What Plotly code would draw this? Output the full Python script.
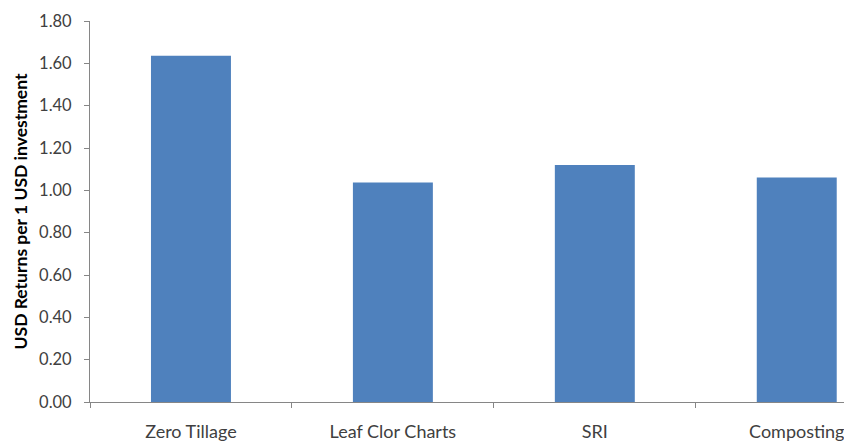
import plotly.graph_objects as go

# Returns per 1 USD invested, by practice
practices = ["Zero Tillage", "Leaf Clor Charts", "SRI", "Composting"]
returns = [1.636, 1.037, 1.12, 1.061]
y_ticks = [0.0, 0.2, 0.4, 0.6, 0.8, 1.0, 1.2, 1.4, 1.6, 1.8]
y_tick_text = [f"{v:.2f}" for v in y_ticks]

fig = go.Figure(
    go.Bar(
        x=practices,
        y=returns,
        marker=dict(color="#4F81BD", line=dict(width=0)),
        hoverinfo="x+y",
    )
)

axis_gray = "#868686"
font_family = "Lato, Open Sans, sans-serif"

fig.update_layout(
    width=844,
    height=441,
    margin=dict(l=90, r=0, t=21, b=39, autoexpand=False),
    paper_bgcolor="white",
    plot_bgcolor="white",
    bargap=0.604,
    showlegend=False,
    xaxis=dict(
        type="category",
        range=[-0.5, 3.234],
        showline=True,
        linecolor=axis_gray,
        linewidth=1,
        ticks="outside",
        tickson="boundaries",
        ticklen=5,
        tickcolor=axis_gray,
        showgrid=False,
        tickfont=dict(family=font_family, size=18, color="#404040"),
        ticklabelstandoff=13,
        automargin=False,
        fixedrange=True,
    ),
    yaxis=dict(
        range=[0, 1.8],
        tickvals=y_ticks,
        ticktext=y_tick_text,
        showline=True,
        linecolor=axis_gray,
        linewidth=1,
        ticks="outside",
        ticklen=5,
        tickcolor=axis_gray,
        showgrid=False,
        zeroline=False,
        tickfont=dict(family=font_family, size=16.5, color="#404040"),
        ticklabelstandoff=9,
        automargin=False,
        title=dict(
            text="<b>USD Returns per 1 USD investment</b>",
            font=dict(family=font_family, size=17.5, color="#000000"),
            standoff=6,
        ),
        fixedrange=True,
    ),
)

fig.write_html("out.html")
